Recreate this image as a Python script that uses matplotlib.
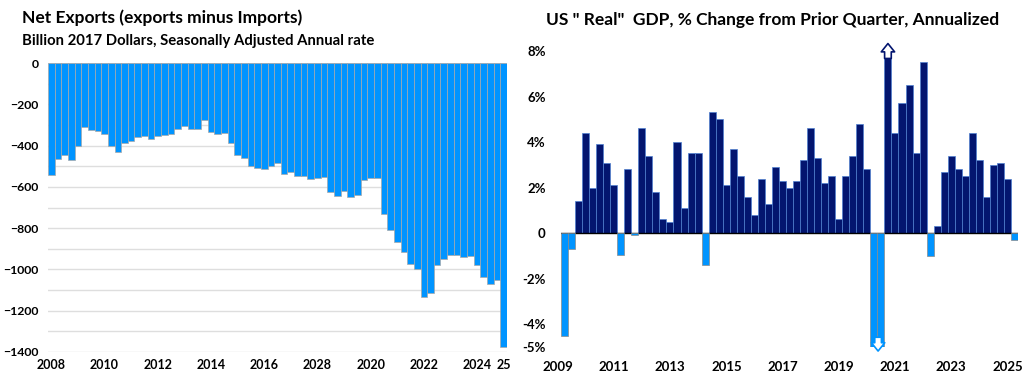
import numpy as np
import matplotlib.pyplot as plt
from matplotlib.transforms import ScaledTranslation

plt.rcParams['font.family'] = ['Lato', 'DejaVu Sans']
plt.rcParams['font.weight'] = 'bold'

# Net exports, billion 2017 dollars, quarterly 2008Q1 - 2025Q1
net_exports = [-542, -465, -447, -471, -402, -308, -326, -331, -344, -404,
               -429, -386, -379, -357, -355, -368, -355, -347, -345, -320,
               -307, -320, -320, -278, -333, -342, -339, -389, -445, -458,
               -500, -508, -513, -499, -484, -538, -528, -547, -546, -562,
               -559, -552, -625, -646, -620, -651, -638, -565, -559, -559,
               -731, -809, -867, -914, -973, -998, -1133, -1112, -978, -949,
               -930, -932, -939, -937, -978, -1038, -1070, -1052, -1374]
ne_tick_idx = [0, 8, 16, 24, 32, 40, 48, 56, 64, 68]
ne_tick_lbl = ['2008', '2010', '2012', '2014', '2016', '2028', '2020', '2022', '2024', '25']
ne_yticks = [0, -200, -400, -600, -800, -1000, -1200, -1400]

# Real GDP % change (annualized), quarterly 2009Q1 - 2025Q1
gdp = [-4.5, -0.7, 1.4, 4.4, 2.0, 3.9, 3.1, 2.1, -0.95, 2.8,
       -0.1, 4.6, 3.4, 1.8, 0.6, 0.5, 4.0, 1.1, 3.5, 3.5,
       -1.4, 5.3, 5.0, 2.1, 3.7, 2.5, 1.6, 0.8, 2.4, 1.3,
       2.9, 2.3, 2.0, 2.3, 3.2, 4.6, 3.3, 2.2, 2.5, 0.6,
       2.5, 3.4, 4.8, 2.8, -5.5, -28.0, 35.0, 4.4, 5.7, 6.5,
       3.5, 7.5, -1.0, 0.3, 2.7, 3.4, 2.8, 2.5, 4.4, 3.2,
       1.6, 3.0, 3.1, 2.4, -0.3]
gdp_tick_idx = [0, 8, 16, 24, 32, 40, 48, 56, 64]
gdp_tick_lbl = ['2009', '2011', '2013', '2015', '2017', '2019', '2021', '2023', '2025']
gdp_yticks = [8, 6, 4, 2, 0, -2, -4, -5]
gdp_ylbl = ['8%', '6%', '4%', '2%', '0', '-2%', '-4%', '-5%']

light = '#0094FF'
navy = '#03156F'

fig = plt.figure(figsize=(10.24, 3.81), dpi=100)

# ---- left: net exports
ax1 = fig.add_axes([48/1024, 29/381, 459/1024, 289/381])
x1 = np.arange(len(net_exports))
ax1.bar(x1, net_exports, width=1.0, color=light, edgecolor='#a8a8a8', linewidth=0.5, zorder=2)
ax1.set_xlim(-0.5, len(net_exports) - 0.5)
ax1.set_ylim(-1400, 0)
ax1.set_yticks(ne_yticks)
ax1.set_yticks(np.arange(-1400, 1, 100), minor=True)
ax1.grid(axis='y', which='both', color='#dedede', linewidth=1.0, zorder=0)
ax1.set_xticks(ne_tick_idx)
ax1.set_xticklabels(ne_tick_lbl)
ax1.tick_params(axis='both', which='both', length=0, labelsize=9)
ax1.tick_params(axis='y', labelsize=8.8, pad=7)
ax1.tick_params(axis='x', pad=5)
for s in ax1.spines.values():
    s.set_visible(False)

fig.text(22/1024, 1 - 18/381, 'Net Exports (exports minus Imports)', fontsize=12.5,
         fontweight='bold', ha='left', va='center')
fig.text(22/1024, 1 - 41/381, 'Billion 2017 Dollars, Seasonally Adjusted Annual rate',
         fontsize=10.7, fontweight='bold', ha='left', va='center')

# ---- right: real GDP
ax2 = fig.add_axes([561/1024, 34/381, 457/1024, 296/381])
x2 = np.arange(len(gdp))
g = np.array(gdp)
pos = g >= 0
ax2.bar(x2[pos], g[pos], width=1.0, color=navy, edgecolor='#4f7fd0', linewidth=0.5, zorder=2)
ax2.axhline(0, color='black', linewidth=1.0, zorder=3)
ax2.bar(x2[~pos], g[~pos], width=1.0, color=light, edgecolor='#8a8a8a', linewidth=0.5, zorder=4)
ax2.set_xlim(-0.5, len(gdp) - 0.5)
ax2.set_ylim(-5, 8)
ax2.set_yticks(gdp_yticks)
ax2.set_yticklabels(gdp_ylbl)
ax2.set_xticks(gdp_tick_idx)
ax2.set_xticklabels(gdp_tick_lbl)
ax2.tick_params(axis='both', length=0, labelsize=9.5)
ax2.tick_params(axis='y', pad=11)
ax2.tick_params(axis='x', pad=10)
for s in ax2.spines.values():
    s.set_visible(False)
# year labels sit a little left of the bar centres in the original
shift = ScaledTranslation(-5/72, 0, fig.dpi_scale_trans)
for lbl in ax2.get_xticklabels():
    lbl.set_transform(lbl.get_transform() + shift)

# off-scale markers for 2020
up_i = int(np.argmax(g))
dn_i = int(np.argmin(g))
ax2.annotate('', xy=(up_i, 8.45), xytext=(up_i, 7.55), annotation_clip=False,
             arrowprops=dict(arrowstyle='simple,head_length=0.5,head_width=0.8,tail_width=0.4',
                             fc='white', ec=navy, lw=1.2, mutation_scale=12), zorder=6)
ax2.annotate('', xy=(dn_i - 0.4, -5.3), xytext=(dn_i - 0.4, -4.45), annotation_clip=False,
             arrowprops=dict(arrowstyle='simple,head_length=0.5,head_width=0.8,tail_width=0.4',
                             fc='white', ec=light, lw=1.2, mutation_scale=12), zorder=6)

fig.text(773/1024, 1 - 20/381, 'US " Real"  GDP, % Change from Prior Quarter, Annualized',
         fontsize=12.5, fontweight='bold', ha='center', va='center')

fig.savefig('out.png', dpi=100)
